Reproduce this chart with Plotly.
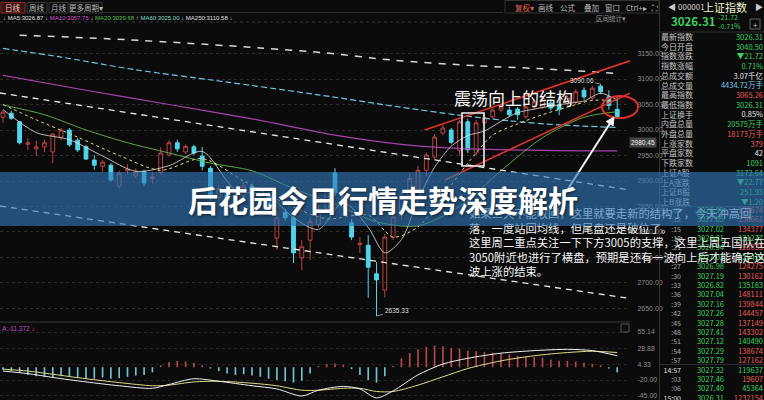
import plotly.graph_objects as go

# ===================== DATA =====================
# daily bars, index 0 = oldest bar visible on screen
OPEN = [3025, 3033, 3016, 2972, 2963, 2967, 2957, 2986, 3000, 2980,
        2967, 2941, 2929, 2931, 2890, 2920, 2910, 2918, 2905, 2917,
        2951, 2975, 2957, 2967, 2949, 2925, 2868, 2884, 2862, 2872,
        2889, 2870, 2872, 2788, 2838, 2828, 2749, 2784, 2815, 2845,
        2916, 2850, 2818, 2775, 2774, 2718, 2686, 2790, 2832, 2870,
        2882, 2921, 2947, 2994, 3000, 2960, 3016, 2955, 3014, 3026,
        3039, 3039, 3041, 3026, 3045, 3045, 3053, 3049, 3053, 3055,
        3078, 3063, 3086, 3065, 3040.50]
HIGH = [3039, 3038, 3018, 2984, 2979, 2981, 2994, 3004, 3004, 2984,
        2971, 2951, 2941, 2935, 2920, 2933, 2925, 2922, 2918, 2966,
        2980, 2981, 2972, 2971, 2967, 2929, 2892, 2890, 2880, 2898,
        2895, 2884, 2878, 2843, 2845, 2832, 2784, 2828, 2855, 2888,
        2925, 2880, 2825, 2790, 2794, 2741, 2796, 2838, 2880, 2915,
        2930, 2956, 2992, 3010, 3004, 3020, 3022, 3020, 3030, 3044,
        3050, 3046, 3045, 3050, 3060, 3066, 3060, 3055, 3068, 3080,
        3084, 3087, 3090.06, 3078, 3065.26]
LOW = [3014, 3020, 2972, 2961, 2949, 2957, 2935, 2980, 2967, 2957,
       2941, 2922, 2918, 2898, 2885, 2913, 2905, 2890, 2895, 2912,
       2948, 2957, 2953, 2951, 2921, 2862, 2860, 2855, 2852, 2866,
       2864, 2860, 2842, 2765, 2822, 2739, 2725, 2745, 2808, 2838,
       2870, 2842, 2784, 2759, 2671, 2635.33, 2672, 2784, 2825, 2862,
       2876, 2910, 2940, 2990, 2972, 2950, 2955, 2950, 3010, 3022,
       3035, 3026, 3020, 3022, 3040, 3041, 3038, 3029, 3049, 3050,
       3060, 3058, 3070, 3040, 3026.31]
CLOSE = [3035, 3023, 2975, 2975, 2967, 2975, 2992, 3000, 2971, 2961,
         2943, 2931, 2937, 2902, 2915, 2923, 2918, 2896, 2908, 2955,
         2975, 2963, 2968, 2955, 2929, 2869, 2885, 2862, 2872, 2890,
         2870, 2873, 2850, 2828, 2828, 2759, 2771, 2820, 2845, 2880,
         2877, 2870, 2790, 2778, 2731, 2706, 2790, 2830, 2870, 2905,
         2921, 2951, 2986, 3004, 2976, 3016, 2961, 3014, 3024, 3039,
         3045, 3030, 3030, 3045, 3055, 3061, 3043, 3040, 3063, 3075,
         3065, 3082, 3075, 3048.03, 3026.31]
BAR_INDEX = list(range(len(OPEN)))

# moving-average lines (bar index, price)
MA5_X = [0, 4, 8, 12, 16, 20, 24, 28, 32, 35, 38, 41, 44, 46, 48, 50, 52, 54, 56, 58, 60, 62, 64, 66, 68, 70, 72, 74]
MA5_Y = [3040, 2995, 2981, 2949, 2919, 2930, 2958, 2883, 2871, 2828, 2805, 2858, 2809, 2759, 2785, 2863, 2927, 2968,
         2989, 2998, 3017, 3034, 3041, 3047, 3052, 3057, 3072, 3059]
MA10_X = [0, 4, 9, 14, 19, 24, 29, 34, 39, 44, 47, 50, 53, 56, 59, 62, 65, 68, 71, 74]
MA10_Y = [3050, 3020, 2986, 2950, 2921, 2944, 2900, 2856, 2826, 2833, 2790, 2810, 2870, 2935, 2990, 3012, 3030,
          3045, 3058, 3058]
MA20_X = [0, 5, 10, 15, 20, 25, 30, 35, 40, 45, 50, 55, 60, 65, 70, 74]
MA20_Y = [3049, 3030, 3000, 2975, 2955, 2935, 2920, 2885, 2855, 2820, 2812, 2850, 2920, 2985, 3025, 3036]
MAGENTA_X = [0, 10, 20, 30, 40, 48, 55, 65, 74]
MAGENTA_Y = [3107, 3078, 3050, 3022, 2990, 2972, 2964, 2960, 2959]
CYAN_X = [0, 7, 16, 27, 38, 47, 55, 61, 67, 74]
CYAN_Y = [3160, 3143, 3118, 3094, 3069, 3047, 3029, 3018, 3010, 3005]
TOPWHITE_X = [2, 15, 31, 39, 47, 57, 65, 74]
TOPWHITE_Y = [3186, 3177, 3161, 3151, 3137, 3126, 3120, 3111]

# hand-drawn trend lines: (bar index, price) start and end
WHITE_TREND_1 = [(-0.36, 3072.6), (75.54, 2882.3)]
WHITE_TREND_2 = [(-0.36, 2851.0), (75.54, 2669.6)]
RED_CHANNEL_UP = [(50.8, 3000.0), (75.54, 3135.6)]
RED_CHANNEL_LOW = [(53.25, 2902.0), (75.54, 3072.2)]

# MACD
MACD_X = [0, 3, 6, 10, 14, 18, 20, 23, 26, 30, 33, 36, 38, 41, 43, 45, 47, 50, 53, 56, 60, 64, 68, 71, 74]
DIF = [-6, -10, -16, -23, -29, -33, -27, -18, -22, -29, -34, -45, -36, -30, -34, -48, -37, -12, 5, 14, 22, 26, 28, 26, 18]
DEA = [-3, -6, -11, -18, -24, -29, -28, -23, -22, -25, -29, -36, -36, -33, -33, -38, -38, -28, -15, -2, 10, 18, 23, 25, 23]
HIST = [-4, -6, -9, -12, -14, -15, -16, -14, -15, -17,
        -18, -18, -16, -18, -17, -15, -13, -12, -8, 3,
        8, 10, 9, 7, 3, -2, -6, -10, -12, -11,
        -13, -15, -18, -20, -22, -24, -21, -10, 2, 5,
        6, 4, -3, -12, -20, -24, -14, 2, 14, 22,
        28, 32, 34, 33, 30, 29, 26, 25, 24, 23,
        22, 20, 18, 17, 16, 15, 12, 10, 10, 9,
        7, 5, 3, -2, -8]

PRICE_TICKS = [2650, 2700, 2750, 2800, 2850, 2900, 2950, 3000, 3050, 3100, 3150]
MACD_TICKS = [55.14, 28.88, 4.33, -20.00, -45.00]

MA_LEGEND_NAMES = ["MA5", "MA10", "MA20", "MA60", "MA250"]
MA_LEGEND_VALUES = [3026.87, 3057.75, 3039.68, 3025.00, 3110.58]
MA_LEGEND_ARROWS = ["↓", "↓", "↑", "↓", "↓"]
MACD_LABEL = "A:-11.372 ↓"
PRICE_TAG = "2980.45"

TITLE = "后花园今日行情走势深度解析"
NOTE = "震荡向上的结构"
BODY_LINES = [
    "如果三天不能收回，这里就要走新的结构了，今天冲高回",
    "落，一度站回均线，但尾盘还是破位了。",
    "这里周二重点关注一下下方3005的支撑，这里上周五国队在",
    "3050附近也进行了横盘，预期是还有一波向上后才能确定这",
    "波上涨的结束。",
]

LEFT_TABS = ["日线", "周线", "月线", "更多周期▾"]
RIGHT_TOOLS = ["复权▾", "画线", "公式", "叠加", "窗口", "Ctrl+▸", "⛶"]
STAT_LABEL = "区间统计▾"

QUOTE_CODE = "000001"
QUOTE_NAME = "上证指数"
QUOTE_LAST = "3026.31"
QUOTE_CHG = "-21.72"
QUOTE_PCT = "-0.71%"
QUOTE_LABELS = ["最新指数", "今日开盘", "指数涨跌", "指数涨幅", "总成交额", "总成交量", "最高指数", "最低指数",
                "上证换手", "内盘总量", "外盘总量", "上涨家数", "平盘家数", "下跌家数", "上证A股", "上A涨跌",
                "上证B股", "上B涨跌"]
QUOTE_VALUES = ["3026.31", "3040.50", "▼21.72", "0.71%", "3.07千亿", "4434.72万手", "3065.26", "3026.31",
                "0.85%", "20575万手", "18173万手", "379", "42", "1091", "3172.64", "▼22.77", "251.93", "▼1.20"]
QUOTE_TONE = ["g", "g", "g", "g", "w", "c", "r", "g", "w", "g", "r", "r", "w", "g", "g", "g", "g", "g"]

TAPE_TIMES = [":09", ":12", ":15", ":18", ":21", ":24", ":27", ":30", ":33", ":36", ":39", ":42", ":45", ":48",
              ":51", ":54", ":57", "14:57", ":03", ":06", "15:00"]
TAPE_PRICES = ["3026.95", "3027.05", "3027.02", "3026.81", "3026.94", "3027.03", "3026.98", "3027.19", "3026.82",
               "3027.04", "3027.16", "3027.26", "3027.28", "3027.41", "3027.12", "3027.29", "3027.79", "3027.32",
               "3027.46", "3027.40", "3026.31"]
TAPE_VOLUMES = ["126674", "136661", "134377", "131277", "128833", "125410", "124275", "130162", "135183", "148111",
                "139844", "144457", "137149", "143302", "140490", "138674", "127162", "119637", "19607", "45364",
                "1232154"]
TAPE_SIDE = ["r", "r", "r", "g", "r", "g", "r", "r", "g", "r", "r", "r", "r", "r", "g", "r", "r", "g", "r", "g", "r"]

# ===================== STYLE =====================
W, H = 764, 400
BG = "#0b0b0b"
UP = "#b84444"
DOWN = "#4fd6ec"
GREEN = "#3ccf62"
RED_T = "#e65a5a"
WHITE_T = "#e6e6e6"
CYAN_T = "#7cc6e6"
TONE = {"g": GREEN, "r": RED_T, "w": WHITE_T, "c": CYAN_T}
CJK = "Noto Sans CJK SC"
PLOT_RIGHT = 630          # px, right edge of the chart area
PRICE_TOP, PRICE_BOT = 22, 322
X_RANGE = [-0.36, 75.54]
PRICE_RANGE = [2623.5, 3211.8]
MACD_RANGE = [-51.3, 70.8]

fig = go.Figure()

# ---- main chart ----
fig.add_trace(go.Candlestick(
    x=BAR_INDEX, open=OPEN, high=HIGH, low=LOW, close=CLOSE,
    increasing=dict(line=dict(color=UP, width=1), fillcolor="rgba(0,0,0,0)"),
    decreasing=dict(line=dict(color=DOWN, width=1), fillcolor=DOWN),
    whiskerwidth=0, hoverinfo="skip", xaxis="x", yaxis="y", showlegend=False))

def line(x, y, color, width=1, dash="solid", shape="spline", axes=("x", "y")):
    fig.add_trace(go.Scatter(x=x, y=y, mode="lines", hoverinfo="skip", showlegend=False,
                             line=dict(color=color, width=width, dash=dash, shape=shape, smoothing=0.8),
                             xaxis=axes[0], yaxis=axes[1]))

line(TOPWHITE_X, TOPWHITE_Y, "#d8d8d8", 1.5, "7px,7px")
line(CYAN_X, CYAN_Y, "#6cc8e2", 1.2, "6px,3px")
line(MAGENTA_X, MAGENTA_Y, "#a444a8", 1.2)
line(MA20_X, MA20_Y, "#62b84a", 0.9)
line(MA10_X, MA10_Y, "#e6dc7a", 1, "dot")
line(MA5_X, MA5_Y, "#e0e0e0", 0.8)
for seg in (WHITE_TREND_1, WHITE_TREND_2):
    line([p[0] for p in seg], [p[1] for p in seg], "#e8e8e8", 1.3, "6px,5px", "linear")
for seg in (RED_CHANNEL_UP, RED_CHANNEL_LOW):
    line([p[0] for p in seg], [p[1] for p in seg], "#e0332c", 1.6, "solid", "linear")

# ---- MACD ----
fig.add_trace(go.Bar(x=BAR_INDEX, y=HIST, width=0.2, hoverinfo="skip", showlegend=False,
                     marker=dict(color=["#b84848" if v > 0 else "#6cc4d4" for v in HIST], line=dict(width=0)),
                     xaxis="x2", yaxis="y2"))
line(MACD_X, DEA, "#e2d98a", 1, "solid", "spline", ("x2", "y2"))
line(MACD_X, DIF, "#f0f0f0", 1, "solid", "spline", ("x2", "y2"))

# ---- pixel overlay texts (below the banner) ----
def texts(xs, ys, labels, colors, size, pos, family=CJK):
    fig.add_trace(go.Scatter(x=xs, y=ys, text=labels, mode="text", textposition=pos, cliponaxis=False,
                             hoverinfo="skip", showlegend=False,
                             textfont=dict(color=colors, size=size, family=family),
                             xaxis="x3", yaxis="y3"))

q_y = [38 + 9.7 * k for k in range(len(QUOTE_LABELS))]
texts([661] * len(q_y), q_y, QUOTE_LABELS, ["#c4c4c4"] * len(q_y), 8, "middle right")
texts([763] * len(q_y), q_y, QUOTE_VALUES, [TONE[t] for t in QUOTE_TONE], 7.5, "middle left")

t_y = [211 + 9.4 * k for k in range(len(TAPE_TIMES))]
texts([681] * len(t_y), t_y, TAPE_TIMES, ["#e0e0e0" if ":" != t[0] else "#a8a8a8" for t in TAPE_TIMES],
      7, "middle left")
texts([724] * len(t_y), t_y, TAPE_PRICES, [GREEN] * len(t_y), 7.5, "middle left")
texts([763] * len(t_y), t_y, TAPE_VOLUMES, [TONE[s] for s in TAPE_SIDE], 7.5, "middle left")

texts([668, 678, 703, 755], [8, 8, 9, 8], ["◀", QUOTE_CODE, QUOTE_NAME, "▶"],
      ["#cccccc", "#d8d8d8", "#eef2c8", "#cccccc"], [8, 8, 11, 8], "middle right")
texts([671], [23], ["<b>" + QUOTE_LAST + "</b>"], [GREEN], 11.5, "middle right")
texts([718, 718], [18, 27], [QUOTE_CHG, QUOTE_PCT], [GREEN, GREEN], 7, "middle right")

b_y = [215.5 + 14.5 * k for k in range(len(BODY_LINES))]
texts([469] * len(b_y), b_y, BODY_LINES, ["#f4f4f4"] * len(b_y), 11.3, "middle right")

# ---- shapes (pixel coordinates on overlay axes) ----
shapes = []
def hline(y, x0, x1, color="#2e2e2e", width=1, dash="solid", layer="below"):
    shapes.append(dict(type="line", xref="x3", yref="y3", x0=x0, x1=x1, y0=y, y1=y, layer=layer,
                       line=dict(color=color, width=width, dash=dash)))
def vline(x, y0, y1, color="#2e2e2e", width=1):
    shapes.append(dict(type="line", xref="x3", yref="y3", x0=x, x1=x, y0=y0, y1=y1, layer="below",
                       line=dict(color=color, width=width)))

hline(12.5, 102, 503)
hline(PRICE_TOP, 0, PLOT_RIGHT, "#383838", 1, "dot")
hline(PRICE_BOT, 0, PLOT_RIGHT, "#3a3a3a")
vline(659.5, 0, 400, "#333333")
hline(32, 660, 764, "#2e2e2e")
hline(206.5, 660, 764, "#2e2e2e")
hline(364.5, 660, 764, "#2e2e2e")

tab_x = [(1, 25), (27, 47), (49, 68), (70, 102)]
for k, (a, b) in enumerate(tab_x):
    shapes.append(dict(type="rect", xref="x3", yref="y3", x0=a, x1=b, y0=2.5, y1=13, layer="below",
                       line=dict(color="#8a2a2a" if k == 0 else "#3a3a3a", width=1),
                       fillcolor="#3a1414" if k == 0 else "rgba(0,0,0,0)"))
shapes.append(dict(type="rect", xref="x3", yref="y3", x0=505, x1=659, y0=0.5, y1=13, layer="below",
                   line=dict(color="#333333", width=1)))
shapes.append(dict(type="rect", xref="x3", yref="y3", x0=750, x1=760, y0=19, y1=29, layer="below",
                   line=dict(color="#666666", width=1)))
shapes.append(dict(type="rect", xref="x3", yref="y3", x0=621, x1=629, y0=324, y1=332, layer="below",
                   line=dict(color="#555555", width=1)))

# hand-drawn marks
shapes.append(dict(type="rect", xref="x3", yref="y3", x0=462, x1=484, y0=113, y1=166, layer="above",
                   line=dict(color="#f0f0f0", width=1.6)))
shapes.append(dict(type="circle", xref="x3", yref="y3", x0=602, x1=638, y0=96, y1=118, layer="above",
                   line=dict(color="#e0302a", width=2)))
shapes.append(dict(type="line", xref="x3", yref="y3", x0=566, y0=192, x1=610.5, y1=122.5, layer="above",
                   line=dict(color="#f4f4f4", width=2)))
shapes.append(dict(type="path", xref="x3", yref="y3", layer="above",
                   path="M 614 117 L 613.1 125.9 L 606.3 121.5 Z",
                   fillcolor="#f4f4f4", line=dict(color="#f4f4f4", width=1)))
# title banner (drawn last so it sits over everything except the title)
shapes.append(dict(type="rect", xref="x3", yref="y3", x0=0, x1=W, y0=172, y1=226, layer="above",
                   fillcolor="rgba(48,120,186,0.62)", line=dict(width=0)))

# ---- annotations (top layer) ----
ann = []
def note(x, y, text, size=7, color="#cccccc", xanchor="center", family=CJK, **kw):
    ann.append(dict(x=x, y=y, xref="x3", yref="y3", text=text, showarrow=False, xanchor=xanchor,
                    yanchor="middle", font=dict(size=size, color=color, family=family), **kw))

for k, ((a, b), t) in enumerate(zip(tab_x, LEFT_TABS)):
    note((a + b) / 2, 7.8, t, 7.5, "#f0c8c8" if k == 0 else "#bbbbbb")
tool_x = [524, 546, 568, 591, 612, 636, 654]
for k, (x, t) in enumerate(zip(tool_x, RIGHT_TOOLS)):
    note(x, 7, t, 7.5, "#e06050" if k == 0 else "#b8b8b8")
note(611, 17.5, STAT_LABEL, 6.5, "#9a9a9a")
note(755, 24, "+", 8, "#cccccc")

legend_colors = ["#e0e0e0", "#d050d0", "#52c052", "#86dcc4", "#e0e0e0"]
legend = '<span style="color:#cccccc">↓ </span>' + "".join(
    f'<span style="color:{c}">{n}:{v:.2f}</span><span style="color:#cccccc"> {a} </span>'
    for n, v, a, c in zip(MA_LEGEND_NAMES, MA_LEGEND_VALUES, MA_LEGEND_ARROWS, legend_colors))
note(1, 17.5, legend, 6, "#cccccc", "left", "Liberation Sans")
note(0, 328, MACD_LABEL, 6.5, "#c050c8", "left", "Liberation Sans")
note(643, 142, PRICE_TAG, 6.5, "#f0f0f0", bgcolor="#454545", borderpad=1, family="Liberation Sans")

note(513, 97, NOTE, 17, "#f8f8f8")

hi = HIGH.index(max(HIGH))
lo = LOW.index(min(LOW))
for idx, val, axo, ayo in ((hi, HIGH[hi], -19, -4), (lo, LOW[lo], 20, -5)):
    ann.append(dict(x=idx, y=val, xref="x", yref="y", text=f"{val:.2f}", showarrow=True, arrowhead=0,
                    arrowwidth=0.8, arrowcolor="#aaaaaa", ax=axo, ay=ayo, standoff=0,
                    font=dict(size=6.5, color="#dddddd", family="Liberation Sans")))

ann.append(dict(x=383, y=199, xref="x3", yref="y3", text=TITLE, showarrow=False, xanchor="center",
                yanchor="middle",
                font=dict(size=30, color="#ffffff", family=CJK, weight="bold",
                          shadow="1px 1px 3px rgba(0,0,0,0.55)")))

axis_font = dict(size=7, color="#8c8c8c", family="Liberation Sans")
fig.update_layout(
    width=W, height=H, autosize=False, margin=dict(l=0, r=0, t=0, b=0, pad=0),
    paper_bgcolor=BG, plot_bgcolor="rgba(0,0,0,0)", showlegend=False, hovermode=False,
    shapes=shapes, annotations=ann, boxgap=0.35,
    xaxis=dict(domain=[0, PLOT_RIGHT / W], range=X_RANGE, anchor="y", visible=False,
               rangeslider=dict(visible=False), fixedrange=True),
    yaxis=dict(domain=[1 - PRICE_BOT / H, 1 - PRICE_TOP / H], range=PRICE_RANGE, anchor="x", side="right",
               tickvals=PRICE_TICKS, tickformat=".2f", tickfont=axis_font, ticks="outside", ticklen=5,
               tickcolor="rgba(0,0,0,0)", showgrid=True, gridcolor="#2c2c2c", griddash="dot",
               zeroline=False, showline=False, fixedrange=True),
    xaxis2=dict(domain=[0, PLOT_RIGHT / W], range=X_RANGE, anchor="y2", visible=False, fixedrange=True),
    yaxis2=dict(domain=[0, 1 - PRICE_BOT / H], range=MACD_RANGE, anchor="x2", side="right",
                tickvals=MACD_TICKS, ticktext=[f"{v:.2f}" for v in MACD_TICKS], tickfont=axis_font,
                ticks="outside", ticklen=5, tickcolor="rgba(0,0,0,0)", showgrid=True, gridcolor="#262626",
                griddash="dot", zeroline=False, showline=False, fixedrange=True),
    xaxis3=dict(domain=[0, 1], range=[0, W], anchor="y3", visible=False, fixedrange=True),
    yaxis3=dict(domain=[0, 1], range=[H, 0], anchor="x3", visible=False, fixedrange=True),
)

fig.write_html("out.html", config={"displayModeBar": False, "staticPlot": True},
               post_script="document.body.style.margin='0';")
